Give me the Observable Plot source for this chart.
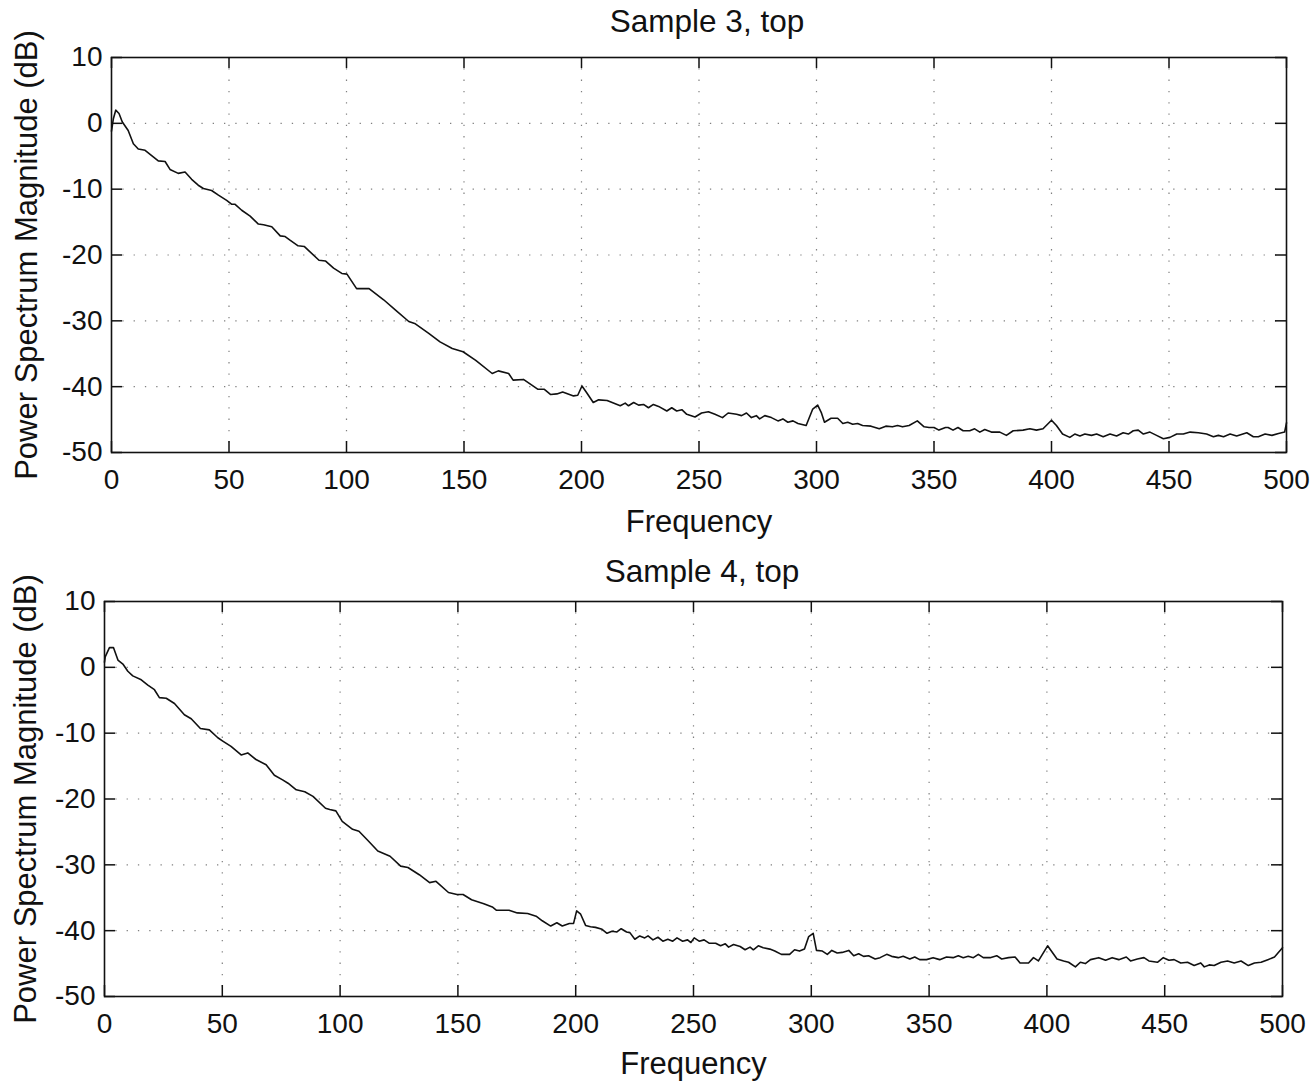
<!DOCTYPE html>
<html>
<head>
<meta charset="utf-8">
<script src="https://cdn.jsdelivr.net/npm/d3@7"></script>
<script src="https://cdn.jsdelivr.net/npm/@observablehq/plot@0.6"></script>
<style>
  html, body { margin: 0; padding: 0; background: #fff; }
  #wrap { position: relative; width: 1316px; height: 1082px; overflow: hidden; background: #fff;
          font-family: "Liberation Sans", Arial, Helvetica, sans-serif; color: #111; }
  .title { position: absolute; left: 0; width: 1316px; text-align: center; font-size: 31.5px; line-height: 32px;
           box-sizing: border-box; z-index: 2; pointer-events: none; }
  .panel { position: absolute; left: 0; z-index: 1; }
</style>
</head>
<body>
<div id="wrap">
  <div class="panel" id="p1" style="top:40px;"></div>
  <div class="panel" id="p2" style="top:584px;"></div>
  <div class="title" id="t1" style="top:5px; padding-left:98px;"></div>
  <div class="title" id="t2" style="top:555px; padding-left:88px;"></div>
</div>
<script>
// ---- Tick labels / axes ----
const xTicks = [0, 50, 100, 150, 200, 250, 300, 350, 400, 450, 500];
const yTicks = [-50, -40, -30, -20, -10, 0, 10];
const xLabel = "Frequency";
const yLabel = "Power Spectrum Magnitude (dB)";
const titles = ["Sample 3, top", "Sample 4, top"];

// ---- Sample 3, top: frequency (Hz) and magnitude (dB) ----
const freq3 = [0, 0.8, 1.8, 3.2, 4.6, 7.1, 9.3, 11.4, 14.3, 17.1, 19.9, 22.8, 24.9, 28.4, 31.3, 34.1, 36.9, 39.1, 42.6, 45.5,
  49, 51.2, 52.6, 55.4, 59, 62.5, 64.7, 68.2, 71.8, 73.9, 75.8, 79.4, 82, 88.3, 91, 94.5, 98, 100.2, 104.3, 109.6,
  115.8, 121, 126.5, 129, 135, 139.8, 145, 149.6, 155, 162, 164.6, 169, 170.9, 175.3, 181.5, 184.2, 186.9, 189.5, 192, 196.6,
  198.4, 200.2, 202, 205, 207.3, 210.9, 216.5, 218.6, 220, 222.2, 224.3, 226.4, 228.5, 230.6, 232.8, 236.3, 238.4, 240.5, 242.7, 244.8,
  248.3, 251.1, 254, 256.8, 260, 262.4, 266, 268.1, 270.2, 272.3, 274.4, 275.8, 278, 280.8, 283.6, 285.7, 287.8, 290, 292.1, 295.6,
  298.4, 300.5, 302, 303.4, 306.2, 309, 311.2, 313.3, 315.4, 317.5, 319.6, 323.2, 326.7, 329.5, 332.3, 334.5, 336.6, 339.4, 342.9, 345.8,
  347.9, 350, 352.1, 354.9, 356, 358.1, 360.2, 362.4, 365.2, 367.3, 369.5, 371.6, 374.4, 378, 380.8, 383.7, 387.9, 390.8, 393.6, 396.4,
  400, 402.1, 404.7, 407.8, 409.9, 412.1, 414.2, 417, 419.2, 422, 424.9, 427.7, 430.5, 432.7, 434.8, 436.9, 439.1, 441.9, 444.7, 447.6,
  450.4, 453.3, 456.1, 459, 462.5, 466, 468.9, 471, 473.2, 476, 478.8, 483.1, 485.9, 488, 490.9, 493.8, 496.6, 499.2, 500];
const mag3 = [-1.2, 0.7, 2.0, 1.5, 0.2, -1.1, -3.1, -3.9, -4.1, -4.9, -5.7, -5.8, -7.0, -7.6, -7.4, -8.5, -9.4, -9.9, -10.2, -10.9,
  -11.7, -12.3, -12.3, -13.2, -14.1, -15.3, -15.4, -15.7, -17.1, -17.2, -17.7, -18.6, -18.7, -20.8, -20.9, -22.0, -22.8, -22.9, -25.1, -25.1,
  -26.8, -28.4, -30.1, -30.4, -31.9, -33.2, -34.2, -34.7, -36.0, -38.0, -37.6, -38.0, -39.0, -38.9, -40.4, -40.4, -41.2, -41.1, -40.8, -41.4,
  -41.3, -39.9, -40.8, -42.4, -42.0, -42.1, -42.9, -42.5, -42.9, -42.4, -42.8, -42.7, -43.2, -42.7, -43.0, -43.7, -43.2, -43.7, -43.5, -44.2,
  -44.6, -44.0, -43.8, -44.2, -44.7, -44.0, -44.2, -44.4, -44.0, -44.7, -44.4, -44.9, -44.4, -44.7, -45.2, -44.9, -45.4, -45.2, -45.6, -45.9,
  -43.4, -42.8, -43.9, -45.4, -44.8, -44.8, -45.6, -45.4, -45.7, -45.6, -45.9, -46.0, -46.4, -46.0, -46.1, -45.9, -46.1, -45.9, -45.2, -46.1,
  -46.2, -46.2, -46.6, -46.2, -46.2, -46.6, -46.2, -46.7, -46.7, -46.4, -46.9, -46.5, -46.9, -46.9, -47.4, -46.7, -46.6, -46.4, -46.6, -46.4,
  -45.1, -45.9, -47.2, -47.7, -47.2, -47.5, -47.2, -47.4, -47.2, -47.6, -47.2, -47.5, -47.0, -47.2, -46.7, -46.6, -47.2, -46.9, -47.4, -47.9,
  -47.7, -47.2, -47.2, -46.9, -47.0, -47.2, -47.6, -47.4, -47.6, -47.2, -47.5, -47.0, -47.6, -47.6, -47.2, -47.4, -47.1, -46.9, -45.5];

// ---- Sample 4, top: frequency (Hz) and magnitude (dB) ----
const freq4 = [0, 0.3, 2.1, 3.8, 5.7, 7.8, 9.9, 12, 15.6, 18.4, 21.2, 23.3, 26.2, 29.7, 33.9, 36.8, 40.7, 44.5, 48.1, 50.2,
  53.7, 58, 60.8, 64.3, 68.6, 72.1, 75.6, 77.9, 81.4, 85, 88.5, 93.8, 95.6, 98.2, 100.9, 105.3, 108, 111.5, 116, 121.2,
  125.7, 128.8, 133.6, 138, 140.7, 146, 149.6, 152.2, 155.8, 161, 164.6, 166.4, 171.7, 175.2, 179.6, 183.2, 185.8, 189.4, 192, 194.3,
  197.3, 199.1, 200.4, 202.1, 204.2, 206.3, 208.4, 211.2, 213.3, 215.4, 217.5, 219.3, 221.6, 223, 225.1, 227.2, 229.3, 230.7, 232.8, 234.9,
  237, 239.1, 241.2, 243, 245.4, 247.5, 248.9, 250.3, 252.4, 254.5, 256.6, 259.4, 261.5, 263.5, 264.9, 267, 269.8, 271.9, 274, 275.4,
  277.5, 279.6, 282.4, 284.5, 287.3, 290.8, 292.9, 295, 297.1, 298.9, 300.8, 302.2, 304.7, 306.8, 308.7, 311, 313.1, 315.9, 318, 320.1,
  322.2, 324.3, 327.1, 329.2, 332, 334.1, 336.9, 339, 341.8, 343.9, 346, 348.9, 351.7, 354.5, 357.4, 360.2, 362.4, 364.5, 366.6, 368.8,
  370.9, 373, 375.9, 378.7, 380.8, 383.7, 386.5, 388.6, 392.2, 394.3, 396.4, 400.3, 404.3, 407.1, 409.2, 412.1, 414.2, 416.3, 418.5, 422,
  424.9, 427.7, 430.5, 433.7, 435.5, 438.4, 441.2, 443.3, 446.9, 449.4, 451.8, 454, 456.8, 459.7, 462.5, 465.3, 466.8, 468.9, 471, 473.9,
  476.7, 479.5, 482.4, 485.5, 488.1, 490.9, 493.8, 496.6, 500];
const mag4 = [0.8, 1.6, 3.0, 3.0, 1.1, 0.5, -0.6, -1.3, -1.9, -2.7, -3.4, -4.6, -4.7, -5.5, -7.2, -7.8, -9.3, -9.5, -10.7, -11.2,
  -12.0, -13.3, -13.0, -14.0, -14.8, -16.4, -17.1, -17.6, -18.6, -18.9, -19.6, -21.4, -21.6, -21.8, -23.4, -24.6, -24.9, -26.2, -27.9, -28.7,
  -30.2, -30.4, -31.5, -32.7, -32.5, -34.2, -34.5, -34.5, -35.3, -35.9, -36.4, -36.9, -36.9, -37.3, -37.4, -37.8, -38.5, -39.3, -38.8, -39.3,
  -38.9, -38.9, -37.0, -37.5, -39.2, -39.4, -39.5, -39.8, -40.4, -40.1, -40.2, -39.7, -40.2, -40.3, -41.3, -40.8, -41.1, -40.8, -41.4, -41.0,
  -41.6, -41.3, -41.6, -41.1, -41.6, -41.4, -41.8, -41.1, -41.6, -41.4, -41.9, -41.9, -42.3, -42.0, -42.5, -42.1, -42.4, -42.9, -42.5, -42.9,
  -42.3, -42.6, -42.8, -43.1, -43.6, -43.6, -42.9, -43.1, -42.8, -40.9, -40.4, -43.0, -43.1, -43.6, -43.0, -43.4, -43.3, -43.0, -43.8, -43.5,
  -43.9, -43.8, -44.3, -44.1, -43.6, -43.9, -44.1, -43.9, -44.3, -44.0, -44.4, -44.4, -44.1, -44.4, -44.0, -44.1, -43.8, -44.1, -43.9, -44.1,
  -43.6, -44.1, -44.1, -43.8, -44.3, -44.1, -44.0, -44.9, -44.9, -44.1, -44.6, -42.3, -44.3, -44.6, -44.8, -45.5, -44.8, -45.0, -44.4, -44.1,
  -44.5, -44.1, -44.4, -44.0, -44.6, -44.3, -44.1, -44.6, -44.8, -44.1, -44.5, -44.4, -44.9, -44.8, -45.3, -44.9, -45.5, -45.2, -45.3, -44.8,
  -44.6, -44.9, -44.6, -45.3, -44.9, -44.8, -44.4, -44.0, -42.6];

const FONT = "'Liberation Sans', Arial, Helvetica, sans-serif";
const W = 1316;
const xGrid = xTicks.slice(1, -1);
const yGrid = yTicks.slice(1, -1);

function panel(freq, mag, m) {
  const data = freq.map((f, i) => ({f, v: mag[i]}));
  const plotW = W - m.left - m.right;
  const plotH = m.height - m.top - m.bottom;
  const tick = 11;
  const grid = {stroke: "#555", strokeOpacity: 0.75, strokeWidth: 1.2, strokeDasharray: "1.3,10"};
  return Plot.plot({
    width: W,
    height: m.height,
    marginLeft: m.left,
    marginRight: m.right,
    marginTop: m.top,
    marginBottom: m.bottom,
    x: {domain: [0, 500]},
    y: {domain: [-50, 10]},
    style: {fontFamily: FONT, background: "transparent", color: "#111", overflow: "visible"},
    marks: [
      Plot.gridX(xGrid, grid),
      Plot.gridY(yGrid, grid),
      Plot.frame({stroke: "#111", strokeWidth: 1.6}),
      Plot.tickX(xTicks, {x: d => d, insetTop: plotH - tick, stroke: "#111", strokeWidth: 1.5}),
      Plot.tickX(xTicks, {x: d => d, insetBottom: plotH - tick, stroke: "#111", strokeWidth: 1.5}),
      Plot.tickY(yTicks, {y: d => d, insetRight: plotW - tick, stroke: "#111", strokeWidth: 1.5}),
      Plot.tickY(yTicks, {y: d => d, insetLeft: plotW - tick, stroke: "#111", strokeWidth: 1.5}),
      Plot.axisX(xTicks, {anchor: "bottom", tickSize: 0, tickPadding: 17, fontSize: 28,
        tickFormat: d => String(d), label: null}),
      Plot.axisY(yTicks, {anchor: "left", tickSize: 0, tickPadding: 9, fontSize: 28,
        tickFormat: d => String(d), label: null}),
      Plot.text([xLabel], {frameAnchor: "bottom", lineAnchor: "bottom", textAnchor: "middle",
        dy: m.xLabelDy, fontSize: 31, fill: "#111"}),
      Plot.text([yLabel], {frameAnchor: "left", lineAnchor: "bottom", textAnchor: "middle", rotate: -90,
        dx: m.yLabelDx, fontSize: 31, fill: "#111"}),
      Plot.line(data, {x: "f", y: "v", stroke: "#111", strokeWidth: 1.6})
    ]
  });
}

document.getElementById("t1").textContent = titles[0];
document.getElementById("t2").textContent = titles[1];
document.getElementById("p1").append(panel(freq3, mag3,
  {height: 502, top: 17, bottom: 90, left: 111, right: 30, xLabelDy: 79, yLabelDx: -75}));
document.getElementById("p2").append(panel(freq4, mag4,
  {height: 498, top: 17, bottom: 86, left: 104, right: 34, xLabelDy: 77, yLabelDx: -69}));
</script>
</body>
</html>
